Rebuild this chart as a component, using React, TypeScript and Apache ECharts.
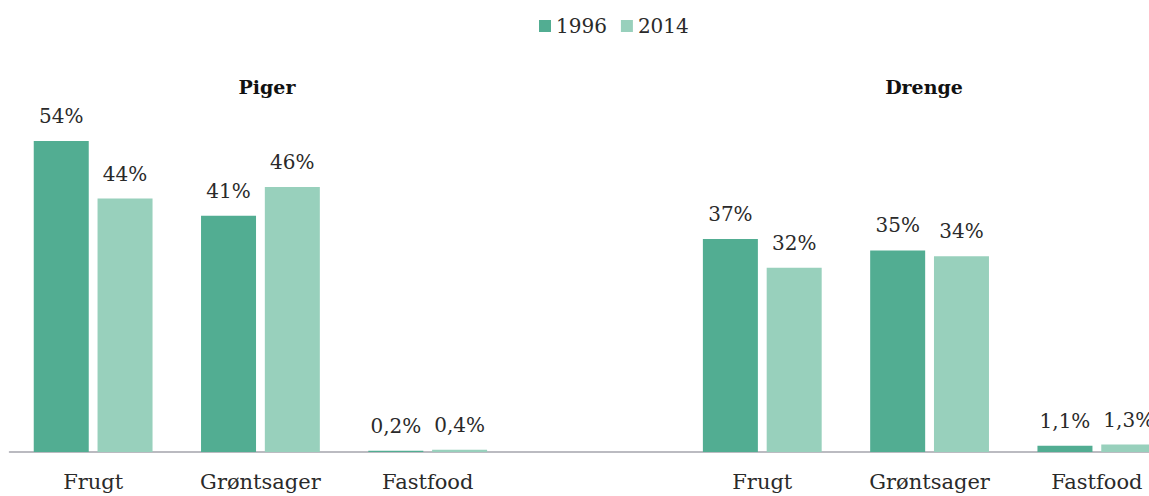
import React, { useEffect, useRef } from "react";
import * as echarts from "echarts";

const categories = ["Frugt", "Grøntsager", "Fastfood", "", "Frugt", "Grøntsager", "Fastfood"];
const groupTitles = ["Piger", "Drenge"];
const seriesNames = ["1996", "2014"];
const piger1996 = [54, 41, 0.2];
const piger2014 = [44, 46, 0.4];
const drenge1996 = [37, 35, 1.1];
const drenge2014 = [32, 34, 1.3];

const values1996 = [...piger1996, null, ...drenge1996];
const values2014 = [...piger2014, null, ...drenge2014];

const FONT = "DejaVu Serif";
const fmt = (v: number) => String(v).replace(".", ",") + "%";

export default function App() {
  const ref = useRef<HTMLDivElement>(null);
  useEffect(() => {
    if (!ref.current) return;
    const chart = echarts.init(ref.current, null, { renderer: "svg" });
    const label = {
      show: true,
      position: "top" as const,
      distance: 15,
      fontFamily: FONT,
      fontSize: 20,
      color: "#2a2a2a",
      formatter: (p: any) => fmt(p.value),
    };
    chart.setOption({
      animation: false,
      textStyle: { fontFamily: FONT },
      legend: {
        top: 11,
        left: 534,
        itemWidth: 12,
        itemHeight: 12,
        itemGap: 14,
        icon: "rect",
        textStyle: { fontFamily: FONT, fontSize: 20, color: "#2a2a2a" },
        data: seriesNames,
      },
      title: [
        {
          text: groupTitles[0],
          left: 262,
          top: 72,
          textAlign: "center",
          textStyle: { fontFamily: FONT, fontSize: 19, fontWeight: "bold", color: "#111" },
        },
        {
          text: groupTitles[1],
          left: 919,
          top: 72,
          textAlign: "center",
          textStyle: { fontFamily: FONT, fontSize: 19, fontWeight: "bold", color: "#111" },
        },
      ],
      grid: { left: 9.5, top: 106.4, width: 1171, height: 345.6 },
      xAxis: {
        type: "category",
        data: categories,
        axisTick: { show: false },
        axisLine: { lineStyle: { color: "#a4a4ac", width: 1.5 } },
        axisLabel: { fontFamily: FONT, fontSize: 21, color: "#2a2a2a", margin: 19 },
      },
      yAxis: {
        type: "value",
        min: 0,
        max: 60,
        show: false,
        splitLine: { show: false },
      },
      series: [
        {
          name: seriesNames[0],
          type: "bar",
          data: values1996,
          barWidth: 55,
          barGap: "16%",
          itemStyle: { color: "#52ad92" },
          label,
        },
        {
          name: seriesNames[1],
          type: "bar",
          data: values2014,
          barWidth: 55,
          barGap: "16%",
          itemStyle: { color: "#98d0bc" },
          label,
        },
      ],
    });
    return () => chart.dispose();
  }, []);
  return (
    <div style={{ position: "fixed", left: 0, top: 0, width: 1149, height: 496, overflow: "hidden", background: "#fff" }}>
      <div ref={ref} style={{ width: 1200, height: 496 }} />
    </div>
  );
}
